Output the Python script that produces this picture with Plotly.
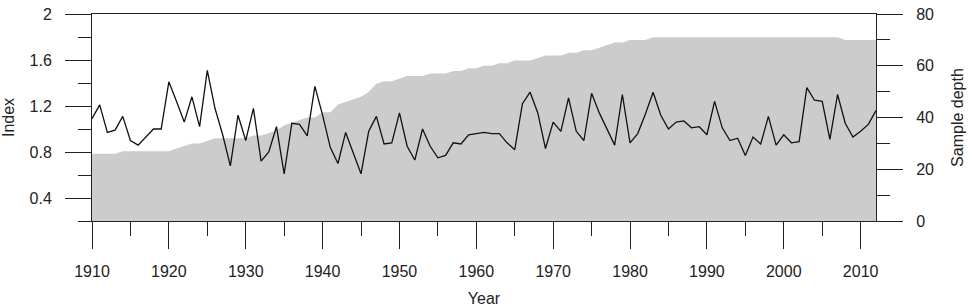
import plotly.graph_objects as go

years = list(range(1910, 2013))

index_values = [
    1.09, 1.21, 0.97, 0.99, 1.11, 0.90, 0.86, 0.93, 1.00, 1.00,
    1.41, 1.24, 1.06, 1.28, 1.02, 1.51, 1.18, 0.95, 0.68, 1.12,
    0.90, 1.18, 0.72, 0.80, 1.02, 0.61, 1.05, 1.04, 0.94, 1.37,
    1.12, 0.84, 0.70, 0.97, 0.79, 0.61, 0.98, 1.11, 0.87, 0.88,
    1.14, 0.85, 0.73, 1.00, 0.85, 0.75, 0.77, 0.88, 0.87, 0.95,
    0.96, 0.97, 0.96, 0.96, 0.88, 0.82, 1.22, 1.32, 1.14, 0.83,
    1.06, 0.98, 1.27, 0.98, 0.90, 1.31, 1.14, 1.00, 0.86, 1.30,
    0.88, 0.96, 1.13, 1.32, 1.12, 1.00, 1.06, 1.07, 1.01, 1.02,
    0.95, 1.24, 1.01, 0.90, 0.92, 0.77, 0.93, 0.87, 1.11, 0.86,
    0.95, 0.88, 0.89, 1.36, 1.25, 1.24, 0.91, 1.30, 1.05, 0.93,
    0.98, 1.04, 1.16,
]

sample_depth = [
    26, 26, 26, 26, 27, 27, 27, 27, 27, 27,
    27, 28, 29, 30, 30, 31, 32, 32, 32, 32,
    32, 33, 33, 34, 35, 37, 38, 39, 40, 40,
    42, 42, 45, 46, 47, 48, 50, 53, 54, 54,
    55, 56, 56, 56, 57, 57, 57, 58, 58, 59,
    59, 60, 60, 61, 61, 62, 62, 62, 63, 64,
    64, 64, 65, 65, 66, 66, 67, 68, 69, 69,
    70, 70, 70, 71, 71, 71, 71, 71, 71, 71,
    71, 71, 71, 71, 71, 71, 71, 71, 71, 71,
    71, 71, 71, 71, 71, 71, 71, 71, 70, 70,
    70, 70, 70,
]

left_ticks = [0.4, 0.8, 1.2, 1.6, 2.0]
left_labels = ["0.4", "0.8", "1.2", "1.6", "2"]
right_ticks = [0, 20, 40, 60, 80]
x_ticks = list(range(1910, 2011, 10))

FONT = "Liberation Sans, Arial, sans-serif"
AX = "#222222"

fig = go.Figure()
fig.add_trace(go.Scatter(
    x=years, y=sample_depth, yaxis="y", mode="lines",
    line=dict(width=0, color="#cccccc"), fill="tozeroy",
    fillcolor="#cccccc", hoverinfo="skip", showlegend=False,
))
fig.add_trace(go.Scatter(
    x=years, y=index_values, yaxis="y2", mode="lines",
    line=dict(width=1.3, color="#111111"), showlegend=False,
))

fig.update_layout(
    width=972, height=307,
    margin=dict(l=92, r=96, t=14, b=86),
    paper_bgcolor="white", plot_bgcolor="white",
    font=dict(family=FONT, size=16, color="#222222"),
    xaxis=dict(
        range=[1910, 2012], tickvals=x_ticks, ticks="outside", ticklen=27,
        tickwidth=1, tickcolor=AX, showline=True, linecolor=AX, linewidth=1,
        mirror=True, showgrid=False, zeroline=False, ticklabelstandoff=9,
        automargin=False,
        minor=dict(dtick=5, tick0=1905, ticks="outside", ticklen=14,
                   tickcolor=AX, tickwidth=1, showgrid=False),
        title=dict(text="Year", font=dict(size=16), standoff=14),
    ),
    yaxis=dict(
        side="right", range=[0, 80], tickvals=right_ticks, ticks="outside",
        ticklen=26, tickwidth=1, tickcolor=AX, showline=True, linecolor=AX,
        linewidth=1, showgrid=False, zeroline=False, ticklabelstandoff=10,
        automargin=False,
        minor=dict(dtick=10, tick0=0, ticks="outside", ticklen=13,
                   tickcolor=AX, tickwidth=1, showgrid=False),
        title=dict(text="Sample depth", font=dict(size=16), standoff=18),
    ),
    yaxis2=dict(
        overlaying="y", side="left", range=[0.2, 2.0], tickvals=left_ticks,
        ticktext=left_labels, ticks="outside", ticklen=26, tickwidth=1,
        tickcolor=AX, showline=True, linecolor=AX, linewidth=1,
        showgrid=False, zeroline=False, ticklabelstandoff=10,
        automargin=False,
        minor=dict(dtick=0.2, tick0=0.2, ticks="outside", ticklen=13,
                   tickcolor=AX, tickwidth=1, showgrid=False),
        title=dict(text="Index", font=dict(size=16), standoff=10),
    ),
)

fig.write_html("out.html")
